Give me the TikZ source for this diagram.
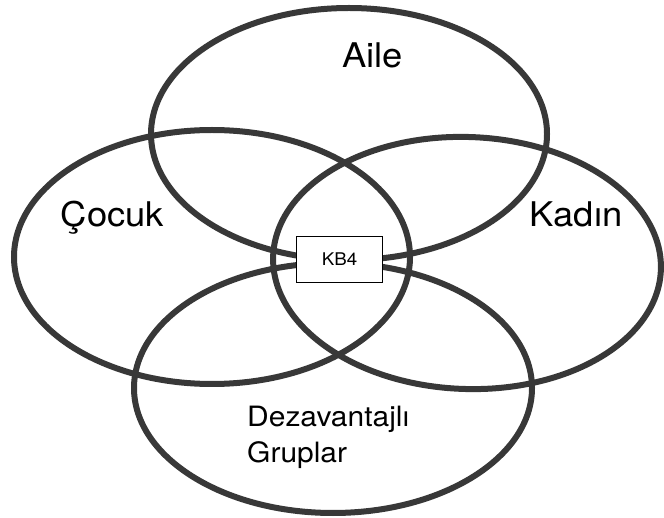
\documentclass[tikz,border=0pt]{standalone}
\usepackage{fontspec}
\setmainfont{TeX Gyre Heros}
\begin{document}
\begin{tikzpicture}[x=1pt,y=-1pt,
  ring/.style={draw=black!78, line width=6pt},
  biglabel/.style={anchor=base, inner sep=0pt, xscale=1.07, font=\fontsize{34}{40}\selectfont},
  midlabel/.style={anchor=base west, inner sep=0pt, xscale=1.07, font=\fontsize{28}{32}\selectfont},
  kbbox/.style={draw=black, line width=1.3pt, fill=white, minimum width=86pt, minimum height=46pt, inner sep=0pt}]
\useasboundingbox (0,0) rectangle (664,518);
% ellipses
\draw[ring] (349,134) ellipse [x radius=198, y radius=126];
\draw[ring] (212,257) ellipse [x radius=198, y radius=127];
\draw[ring, rotate around={-2:(467,263)}] (467,263) ellipse [x radius=194, y radius=126];
\draw[ring] (333,388) ellipse [x radius=199, y radius=125];
% labels
\node[biglabel] (aile) at (372.5,68) {Aile};
\node[biglabel] (cocuk) at (112.5,227) {Çocuk};
\node[biglabel] (kadin) at (576,227) {Kadın};
\node[midlabel] (dez) at (247,427) {Dezavantajlı};
\node[midlabel] (grup) at (247,462) {Gruplar};
\node[kbbox] (kb4) at (339.5,259.5) {};
\node[anchor=center, inner sep=0pt, xscale=1.07, font=\fontsize{17.5}{20}\selectfont] (kbtext) at (kb4.center) {KB4};
\end{tikzpicture}
\end{document}
